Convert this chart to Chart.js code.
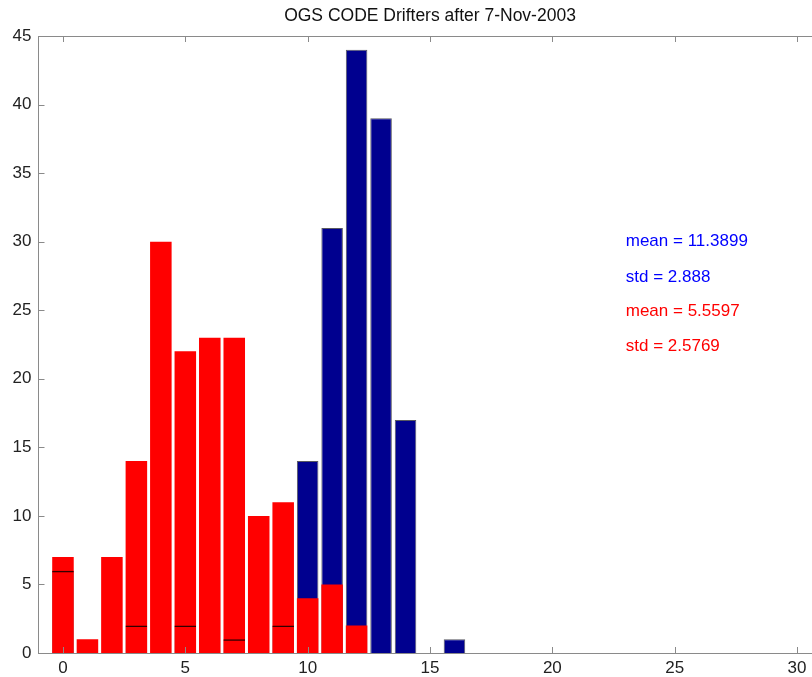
<!DOCTYPE html>
<html>
<head>
<meta charset="utf-8">
<script src="https://cdn.jsdelivr.net/npm/chart.js@4"></script>
<style>
  html, body { margin: 0; padding: 0; background: #fff; overflow: hidden; }
  #wrap { position: relative; width: 822px; height: 677px; }
</style>
</head>
<body>
<div id="wrap"><canvas id="c"></canvas></div>
<script>
// ---- data ----
const titleText = 'OGS CODE Drifters after 7-Nov-2003';
const bins = [0, 1, 2, 3, 4, 5, 6, 7, 8, 9, 10, 11, 12, 13, 14, 15, 16];
const blueCounts = [6, 0, 0, 2, 0, 2, 0, 1, 0, 2, 14, 31, 44, 39, 17, 0, 1];
const redCounts  = [7, 1, 7, 14, 30, 22, 23, 23, 10, 11, 4, 5, 2, 0, 0, 0, 0];
const xTicks = [0, 5, 10, 15, 20, 25, 30];
const yTicks = [0, 5, 10, 15, 20, 25, 30, 35, 40, 45];
const statLabels = ['mean = 11.3899', 'std = 2.888', 'mean = 5.5597', 'std = 2.5769'];
const statColors = ['#0000ff', '#0000ff', '#ff0000', '#ff0000'];
const statX = 23;
const statY = [30, 27.4, 24.9, 22.35];

const bluePts = [], redPts = [], edgePts = [];
bins.forEach((b, i) => {
  if (blueCounts[i] > 0) bluePts.push({x: b, y: blueCounts[i]});
  if (redCounts[i] > 0) redPts.push({x: b, y: redCounts[i]});
  if (blueCounts[i] > 0 && blueCounts[i] < redCounts[i]) edgePts.push({x: b, y: blueCounts[i]});
});

const FONT = '"Liberation Sans", Arial, Helvetica, sans-serif';
const AXIS_COLOR = '#8a8a8a';
const TICK_LEN = 6;

const boxPlugin = {
  id: 'boxPlugin',
  afterDraw(chart) {
    const ctx = chart.ctx;
    const a = chart.chartArea;
    const xs = chart.scales.x, ys = chart.scales.y;
    ctx.save();
    ctx.strokeStyle = AXIS_COLOR;
    ctx.lineWidth = 1;
    ctx.beginPath();
    ctx.moveTo(a.left, Math.round(a.top) + 0.5);
    ctx.lineTo(a.right, Math.round(a.top) + 0.5);
    xTicks.forEach(v => {
      const px = Math.round(xs.getPixelForValue(v)) + 0.5;
      ctx.moveTo(px, a.bottom);
      ctx.lineTo(px, a.bottom - TICK_LEN);
      ctx.moveTo(px, a.top);
      ctx.lineTo(px, a.top + TICK_LEN);
    });
    yTicks.forEach(v => {
      const py = Math.round(ys.getPixelForValue(v)) + 0.5;
      ctx.moveTo(a.left, py);
      ctx.lineTo(a.left + TICK_LEN, py);
    });
    ctx.stroke();
    ctx.font = '17px ' + FONT;
    ctx.textAlign = 'left';
    ctx.textBaseline = 'middle';
    statLabels.forEach((t, i) => {
      ctx.fillStyle = statColors[i];
      ctx.fillText(t, xs.getPixelForValue(statX), ys.getPixelForValue(statY[i]));
    });
    ctx.restore();
  }
};

new Chart(document.getElementById('c'), {
  type: 'bar',
  data: {
    datasets: [
      {
        label: 'edge',
        data: edgePts,
        backgroundColor: 'rgba(0,0,0,0)',
        borderColor: '#330000',
        borderWidth: {top: 1.5, left: 0, right: 0, bottom: 0},
        borderSkipped: false,
        grouped: false,
        order: 0,
        barPercentage: 0.88,
        categoryPercentage: 1
      },
      {
        label: 'red',
        data: redPts,
        backgroundColor: '#ff0000',
        borderWidth: 0,
        grouped: false,
        order: 1,
        barPercentage: 0.88,
        categoryPercentage: 1
      },
      {
        label: 'blue',
        data: bluePts,
        backgroundColor: '#00008f',
        borderColor: 'rgba(70,70,80,0.9)',
        borderWidth: 1,
        grouped: false,
        order: 2,
        barPercentage: 0.88,
        categoryPercentage: 1
      }
    ]
  },
  options: {
    responsive: true,
    maintainAspectRatio: false,
    animation: false,
    layout: { padding: { left: 0, right: 0.5, top: 0, bottom: 0 } },
    plugins: {
      legend: { display: false },
      tooltip: { enabled: false },
      title: {
        display: true,
        fullSize: false,
        text: titleText,
        color: '#111',
        font: { family: FONT, size: 17.5, weight: 'normal', lineHeight: 1.2 },
        padding: { top: 6, bottom: 9 }
      }
    },
    scales: {
      x: {
        type: 'linear',
        min: -1,
        max: 31,
        offset: false,
        grid: { display: false, drawTicks: false, offset: false },
        border: { display: true, color: AXIS_COLOR, width: 1 },
        afterBuildTicks(s) { s.ticks = xTicks.map(v => ({value: v})); },
        afterFit(s) { s.height = 24; },
        ticks: {
          autoSkip: false,
          maxRotation: 0,
          padding: 5,
          color: '#222',
          font: { family: FONT, size: 17 }
        }
      },
      y: {
        type: 'linear',
        min: 0,
        max: 45,
        grid: { display: false, drawTicks: false },
        border: { display: true, color: AXIS_COLOR, width: 1 },
        afterBuildTicks(s) { s.ticks = yTicks.map(v => ({value: v})); },
        afterFit(s) { s.width = 38.5; },
        ticks: {
          autoSkip: false,
          padding: 7,
          color: '#222',
          font: { family: FONT, size: 17 }
        }
      }
    }
  },
  plugins: [boxPlugin]
});
</script>
</body>
</html>
